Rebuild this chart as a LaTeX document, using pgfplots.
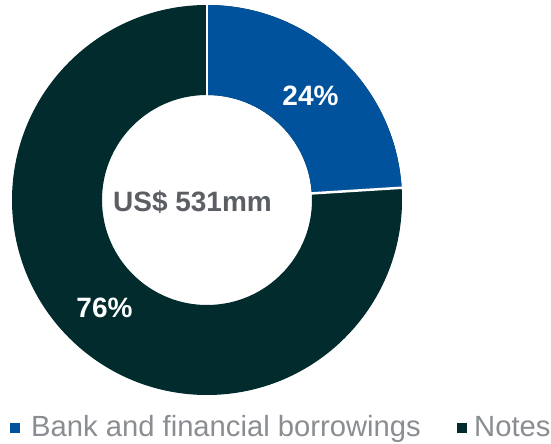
\documentclass[border=0pt]{standalone}
\usepackage{pgfplots}
\pgfplotsset{compat=1.18}
\usepackage{pgfplotstable}
\usepackage{fontspec}
\setmainfont{Liberation Sans}
\definecolor{bankblue}{HTML}{00529C}
\definecolor{notesdark}{HTML}{012B2D}
\definecolor{centregrey}{HTML}{5B5E63}
\definecolor{legendgrey}{HTML}{8A8D91}

% debt mix, per cent of US$ 531mm
\pgfplotstableread{
share
24
76
}\debtshares

\begin{document}
\begin{tikzpicture}
\pgfplotstablegetelem{0}{share}\of\debtshares
\let\bankshare\pgfplotsretval
\pgfmathsetmacro{\splitangle}{90-3.6*\bankshare}
\begin{axis}[
    x=1pt, y=1pt,
    xmin=0, xmax=551,
    ymin=0, ymax=444,
    hide axis,
    clip=false,
]
\path (axis cs:0,0) rectangle (axis cs:551,444);
% ring: outer 195, inner 105, centre (207,244)
\fill[notesdark] (axis cs:207,244) ++(90:195pt)
    arc[start angle=90, end angle=\splitangle-360, radius=195pt]
    -- ++(\splitangle+180:90pt)
    arc[start angle=\splitangle-360, end angle=90, radius=105pt] -- cycle;
\fill[bankblue] (axis cs:207,244) ++(90:195pt)
    arc[start angle=90, end angle=\splitangle, radius=195pt]
    -- ++(\splitangle+180:90pt)
    arc[start angle=\splitangle, end angle=90, radius=105pt] -- cycle;
\draw[white, line width=2.5pt] (axis cs:207,244) ++(90:103pt) -- ++(90:95pt);
\draw[white, line width=2.5pt] (axis cs:207,244) ++(\splitangle:103pt) -- ++(\splitangle:95pt);

\node[text=white, font=\bfseries\fontsize{28}{34}\selectfont] at (axis cs:310.5,348) {24\%};
\node[text=white, font=\bfseries\fontsize{28}{34}\selectfont] at (axis cs:104.5,136) {76\%};
\node[text=centregrey, font=\bfseries\fontsize{28}{34}\selectfont] at (axis cs:192.5,242) {US\$ 531mm};

% legend
\fill[bankblue] (axis cs:10,11) rectangle (axis cs:20,21);
\node[anchor=base west, inner sep=0pt, text=legendgrey, font=\fontsize{29.2}{35}\selectfont] at (axis cs:31,7) {Bank and financial borrowings};
\fill[notesdark] (axis cs:457,11) rectangle (axis cs:467,21);
\node[anchor=base west, inner sep=0pt, text=legendgrey, font=\fontsize{29.2}{35}\selectfont] at (axis cs:474,7) {Notes};
\end{axis}
\end{tikzpicture}
\end{document}
